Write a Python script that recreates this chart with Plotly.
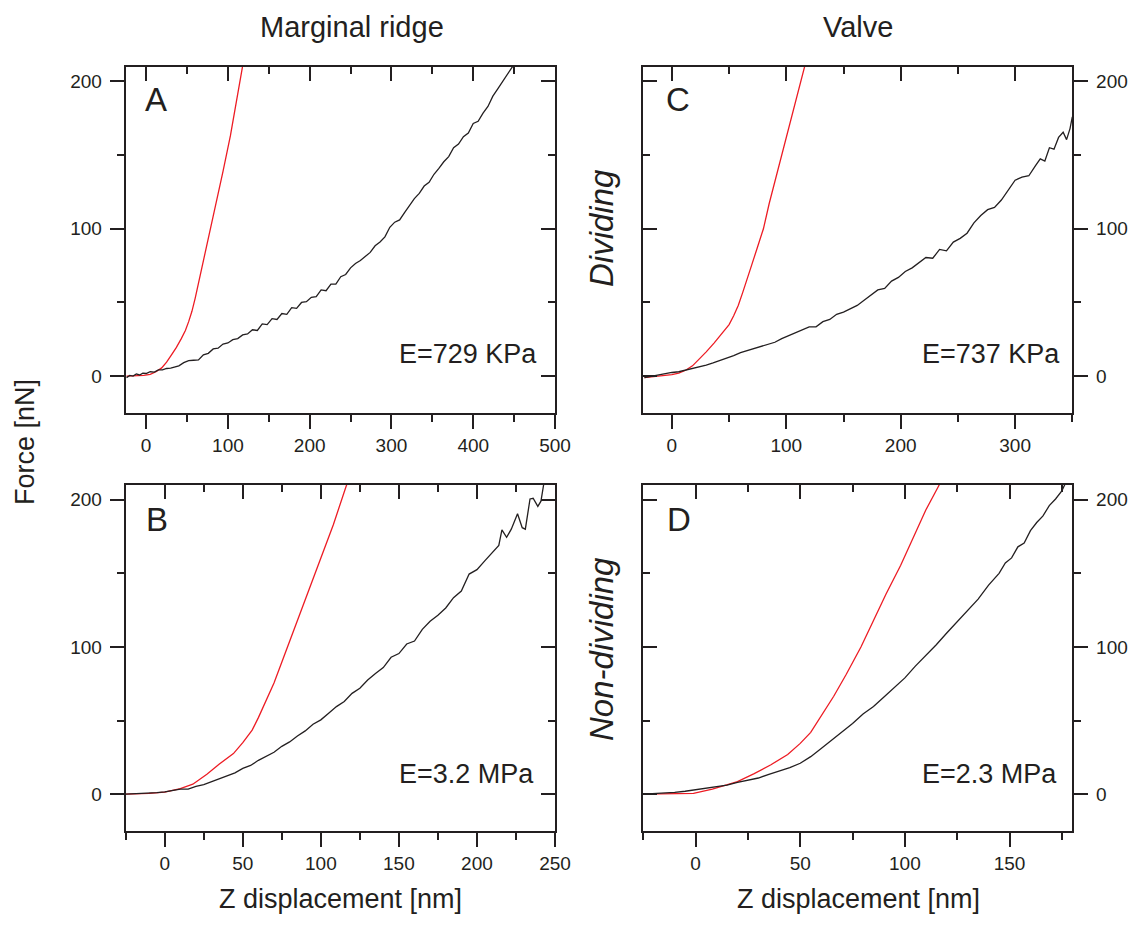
import plotly.graph_objects as go

# colours and font
ink = "#231f20"
red = "#ed1c24"
font = "Liberation Sans, Arial, Helvetica, sans-serif"

# panel A - marginal ridge, dividing
a_z_red = [-24, -12, -3, 5, 12, 19, 25, 31, 37, 43, 48, 52, 56, 60, 64, 70, 78, 86, 94, 103, 111, 118, 121]
a_f_red = [0, 0, 0.5, 1.2, 3.0, 5.6, 9.5, 14.5, 19.5, 25.5, 31, 37, 44, 53, 63, 77, 97, 117, 139, 163, 187, 210, 220]
a_z_blk = [-24, -20, -16, -12, -8, -4, 0, 5, 10, 15, 20, 25, 30, 35, 40, 46, 52, 58, 64, 70, 76, 82, 88, 94,
           100, 106, 112, 118, 124, 130, 136, 142, 148, 154, 160, 166, 172, 178, 184, 190, 196, 202, 208, 214,
           220, 226, 232, 238, 244, 250, 256, 262, 268, 274, 280, 286, 292, 298, 304, 310, 316, 322, 328, 334,
           340, 346, 352, 358, 364, 370, 376, 382, 388, 394, 400, 406, 412, 418, 424, 430, 436, 442, 448, 452]
a_f_blk = [-1.0, 0.5, 0.0, 1.5, 0.8, 2.0, 1.8, 3.0, 2.8, 4.2, 4.3, 5.2, 5.5, 6.0, 7.0, 9.2, 10.5, 10.8, 11.0, 14.5,
           15.5, 18.5, 19.0, 21.8, 22.5, 24.8, 25.5, 28.0, 28.6, 31.5, 31.0, 35.5, 35.0, 39.0, 38.5, 42.5, 42.0,
           46.5, 46.0, 50.0, 50.5, 53.5, 54.0, 58.5, 58.0, 62.5, 62.5, 67.5, 69.0, 73.5, 76.5, 78.5, 81.5, 84.0,
           88.5, 91.0, 94.5, 101.0, 104.5, 106.0, 111.0, 116.0, 120.5, 124.0, 129.0, 131.5, 137.0, 141.0, 145.5,
           149.0, 155.0, 157.5, 162.5, 165.0, 171.5, 173.0, 178.5, 183.0, 190.0, 195.0, 200.0, 204.5, 210.0, 216.0]

# panel B - marginal ridge, non-dividing
b_z_red = [-25, -10, 0, 10, 18, 27, 35, 44, 50, 56, 60, 64, 70, 76, 83, 89, 96, 102, 108, 116, 120]
b_f_red = [0, 0.5, 1.4, 3.8, 6.8, 13.6, 20.5, 27.6, 35, 43.5, 52, 61, 75.5, 92.5, 112, 129.5, 149, 166, 183, 208.5, 220]
b_z_blk = [-25, -20, -15, -10, -5, 0, 5, 10, 15, 20, 25, 30, 35, 40, 45, 50, 55, 60, 65, 70, 75, 80, 85, 90, 95,
           100, 105, 110, 115, 120, 125, 130, 135, 140, 145, 150, 155, 160, 165, 170, 175, 180, 185, 190, 195,
           200, 205, 210, 214, 216, 219, 222, 226, 229, 231, 234, 236, 239, 241, 243]
b_f_blk = [0, 0.2, 0.4, 0.6, 1.0, 1.6, 2.3, 3.4, 3.5, 5.3, 6.5, 8.5, 10.0, 12.5, 14.5, 17.5, 19.5, 23.0, 26.0, 28.5,
           32.5, 35.5, 39.5, 43.0, 47.5, 50.5, 55.0, 59.5, 63.0, 68.5, 72.0, 77.5, 82.0, 86.0, 93.0, 95.5, 102.0,
           104.0, 112.0, 117.5, 121.5, 126.5, 133.5, 138.0, 149.5, 152.5, 158.5, 164.5, 169.0, 179.5, 174.5,
           180.0, 190.5, 181.0, 180.0, 200.5, 201.0, 195.5, 199.0, 212.0]

# panel C - valve, dividing
c_z_red = [-24, -10, 0, 6, 12, 18, 24, 30, 37, 44, 50, 54, 58, 62, 66, 70, 75, 80, 85, 91, 97, 103, 109, 116, 120]
c_f_red = [-1, 0, 1, 2, 4, 7, 11.5, 16.5, 22.6, 29, 35, 41, 48, 57, 66, 76, 88, 100, 117, 135, 153, 170, 190, 210, 222]
c_z_blk = [-24, -18, -12, -6, 0, 6, 12, 18, 24, 30, 36, 42, 48, 54, 60, 66, 72, 78, 84, 90, 96, 102, 108, 114,
           120, 126, 132, 138, 144, 150, 156, 162, 168, 174, 180, 186, 192, 198, 204, 210, 216, 222, 228, 234,
           240, 246, 252, 258, 264, 270, 276, 282, 288, 294, 300, 306, 312, 318, 322, 326, 330, 334, 338, 342,
           345, 348, 350]
c_f_blk = [-1.0, 0.0, 1.0, 1.5, 2.5, 3.0, 4.0, 5.0, 6.5, 7.5, 9.0, 10.5, 12.5, 14.0, 16.0, 17.5, 19.0, 20.0, 21.5,
           23.0, 25.5, 27.5, 29.5, 31.0, 33.5, 33.5, 37.0, 38.5, 42.0, 43.5, 46.0, 48.0, 51.5, 55.0, 58.5, 59.5,
           64.5, 67.0, 71.0, 73.5, 77.0, 80.5, 80.0, 86.0, 85.0, 91.0, 93.5, 97.0, 104.0, 109.0, 113.0, 114.5,
           119.5, 126.0, 133.0, 135.0, 136.0, 143.0, 147.5, 146.0, 155.0, 154.0, 162.0, 165.5, 160.5, 168.0, 176.0]

# panel D - valve, non-dividing
d_z_red = [-25, -12, -1, 8, 20, 28, 36, 44, 50, 55, 59, 66, 72, 79, 85, 91, 98, 104, 110, 116, 120]
d_f_red = [0, 0, 0.5, 3.5, 8.5, 14, 20, 27, 34.5, 42, 51, 66.5, 81.5, 100, 118, 136, 155.5, 174.5, 193, 209, 220]
d_z_blk = [-25, -20, -15, -10, -5, 0, 5, 10, 15, 20, 25, 30, 35, 40, 45, 50, 55, 60, 65, 70, 75, 80, 85, 90, 95,
           100, 105, 110, 115, 120, 125, 130, 135, 140, 145, 148, 151, 154, 157, 160, 163, 166, 169, 172, 175, 177]
d_f_blk = [0, 0.3, 0.8, 1.3, 2.0, 3.0, 4.0, 5.0, 6.2, 8.0, 9.5, 11.0, 13.5, 15.5, 18.0, 21.0, 25.5, 31.0, 36.5,
           42.0, 48.0, 54.5, 59.5, 66.0, 72.5, 79.0, 87.0, 94.0, 101.5, 109.5, 117.0, 125.0, 132.5, 142.0, 150.0,
           157.0, 160.5, 168.0, 170.5, 179.0, 184.5, 189.0, 196.0, 200.5, 206.0, 212.0]

panel_letters = ["A", "B", "C", "D"]
moduli = ["E=729 KPa", "E=3.2 MPa", "E=737 KPa", "E=2.3 MPa"]
col_titles = ["Marginal ridge", "Valve"]
row_titles = ["Dividing", "Non-dividing"]
force_range = [-25, 210]

W, H = 1134, 925

# panel settings: (axis no, overlay no, x domain, y domain, x range, major, minor, y label side)
panels = [
    (1, 5, [125.7, 555], [66.7, 413], [-25, 500], 100, 50, "left"),
    (2, 6, [125.7, 555], [485, 831], [-25, 250], 50, 25, "left"),
    (3, 7, [643.3, 1072.3], [66.7, 413], [-25, 350], 100, 50, "right"),
    (4, 8, [643.3, 1072.3], [485, 831], [-25, 180], 50, 25, "right"),
]
curves = [(a_z_red, a_f_red, a_z_blk, a_f_blk), (b_z_red, b_f_red, b_z_blk, b_f_blk),
          (c_z_red, c_f_red, c_z_blk, c_f_blk), (d_z_red, d_f_red, d_z_blk, d_f_blk)]


def ax_name(kind, n):
    return kind + "axis" + ("" if n == 1 else str(n))


def ref(kind, n):
    return kind + ("" if n == 1 else str(n))


fig = go.Figure()
tickfont = dict(family=font, size=19, color=ink)
base = dict(showline=True, linewidth=2, linecolor=ink, showgrid=False, zeroline=False, automargin=False,
            tickwidth=2, tickcolor=ink, ticklen=14, tick0=0, tickfont=tickfont, fixedrange=True)

for (n, m, xd, yd, xr, dt, mdt, yside), (zr, fr, zb, fb) in zip(panels, curves):
    xdom = [xd[0] / W, xd[1] / W]
    ydom = [1 - yd[1] / H, 1 - yd[0] / H]
    other = "right" if yside == "left" else "left"
    # bottom axis with labels, top axis with inside ticks
    fig.update_layout(**{
        ax_name("x", n): dict(base, domain=xdom, range=xr, anchor=ref("y", n), side="bottom",
                              ticks="outside", dtick=dt,
                              minor=dict(ticks="outside", ticklen=7, tickwidth=2, tickcolor=ink,
                                         tick0=0, dtick=mdt, showgrid=False)),
        ax_name("x", m): dict(base, overlaying=ref("x", n), range=xr, anchor=ref("y", m), side="top",
                              ticks="inside", dtick=dt, showticklabels=False,
                              minor=dict(ticks="inside", ticklen=7, tickwidth=2, tickcolor=ink,
                                         tick0=0, dtick=mdt, showgrid=False)),
        ax_name("y", n): dict(base, domain=ydom, range=force_range, anchor=ref("x", n), side=yside,
                              ticks="outside", dtick=100, ticklabelstandoff=4,
                              minor=dict(ticks="outside", ticklen=7, tickwidth=2, tickcolor=ink,
                                         tick0=0, dtick=50, showgrid=False)),
        ax_name("y", m): dict(base, overlaying=ref("y", n), range=force_range, anchor=ref("x", m), side=other,
                              ticks="inside", dtick=100, showticklabels=False,
                              minor=dict(ticks="inside", ticklen=7, tickwidth=2, tickcolor=ink,
                                         tick0=0, dtick=50, showgrid=False)),
    })
    fig.add_trace(go.Scatter(x=zr, y=fr, mode="lines", line=dict(color=red, width=1.3),
                             xaxis=ref("x", n), yaxis=ref("y", n), showlegend=False))
    fig.add_trace(go.Scatter(x=zb, y=fb, mode="lines", line=dict(color=ink, width=1.3),
                             xaxis=ref("x", n), yaxis=ref("y", n), showlegend=False))
    # empty trace so the mirrored axes get drawn
    fig.add_trace(go.Scatter(x=[], y=[], xaxis=ref("x", m), yaxis=ref("y", m), showlegend=False))

# text
ann = []


def text(s, px, py, size, xanchor="center", **kw):
    ann.append(dict(text=s, x=px / W, y=1 - py / H, xref="paper", yref="paper", showarrow=False,
                    xanchor=xanchor, yanchor="middle",
                    font=dict(family=font, size=size, color=ink), **kw))


text(col_titles[0], 352, 27, 29)
text(col_titles[1], 858, 27, 29)
text("Force [nN]", 25, 442, 27, textangle=-90)
text("<i>" + row_titles[0] + "</i>", 601, 228, 33, textangle=-90)
text("<i>" + row_titles[1] + "</i>", 601, 649, 33, textangle=-90)
text("Z displacement [nm]", 340, 899, 27)
text("Z displacement [nm]", 858, 899, 27)

letter_pos = [(156, 99), (157, 519), (678, 99), (679, 519)]
mod_pos = [(539, 354), (536, 774), (1062, 354), (1059, 774)]
for s, (px, py) in zip(panel_letters, letter_pos):
    text(s, px, py, 33)
for s, (px, py) in zip(moduli, mod_pos):
    text(s, px, py, 27, xanchor="right")

fig.update_layout(width=W, height=H, autosize=False, margin=dict(l=0, r=0, t=0, b=0, pad=0),
                  paper_bgcolor="white", plot_bgcolor="white", annotations=ann)

# drop the page margin so the figure sits at the window corner
fig.write_html("out.html", config={"responsive": False, "displayModeBar": False},
               post_script="document.body.style.margin='0px'; document.body.style.overflow='hidden';")
